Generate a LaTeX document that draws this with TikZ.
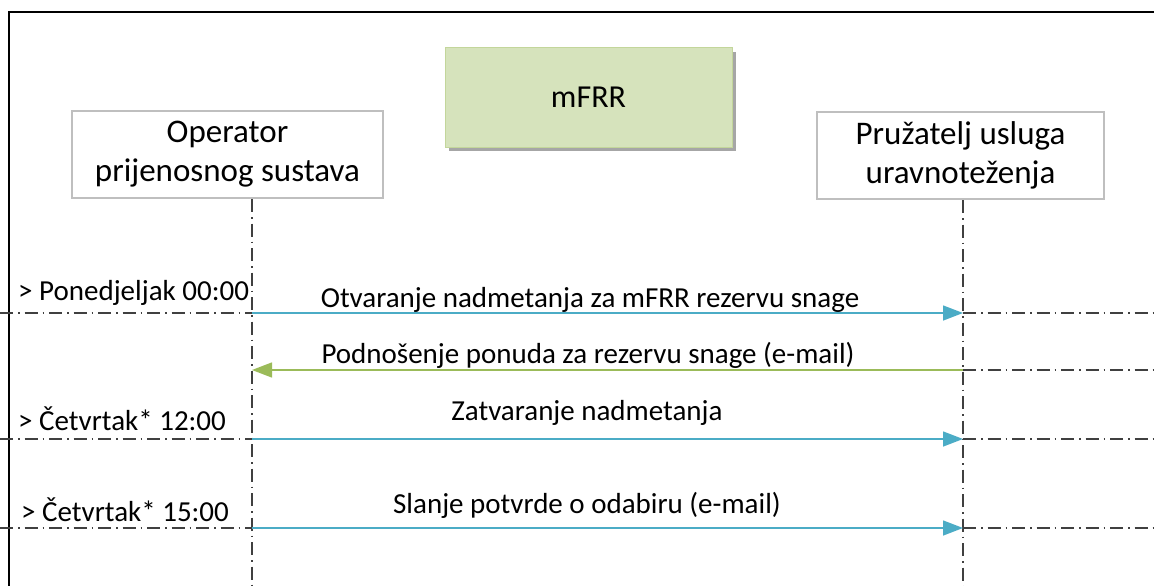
\documentclass[tikz,border=0pt]{standalone}
\usepackage{fontspec}
\setmainfont{Carlito}
\usetikzlibrary{arrows.meta,shadows}
\definecolor{boxgray}{HTML}{BFBFBF}
\definecolor{mfrrfill}{HTML}{D6E3BC}
\definecolor{mfrrdraw}{HTML}{C3D69B}
\definecolor{arrblue}{HTML}{4BACC6}
\definecolor{arrgreen}{HTML}{9BBB59}
\definecolor{linegray}{HTML}{404040}
\tikzset{
  x=1pt, y=1pt,
  actor/.style={draw=boxgray, line width=2pt, fill=white, minimum height=87pt, align=center, font=\fontsize{33}{39}\selectfont, inner sep=0pt},
  titlebox/.style={draw=mfrrdraw, line width=1pt, fill=mfrrfill, minimum width=287pt, minimum height=99pt, font=\fontsize{32}{38}\selectfont,
    drop shadow={shadow xshift=4pt, shadow yshift=-4pt, fill=black, opacity=0.35}},
  lifeline/.style={draw=linegray, line width=1.4pt, dash pattern=on 13pt off 5pt on 1.5pt off 5pt},
  timeline/.style={draw=linegray, line width=1.4pt, dash pattern=on 13pt off 5pt on 1.5pt off 5pt},
  msgblue/.style={draw=arrblue, line width=1.4pt, -{Triangle[length=20pt,width=15pt]}},
  msggreen/.style={draw=arrgreen, line width=1.4pt, -{Triangle[length=20pt,width=15pt]}},
  msglabel/.style={font=\fontsize{29}{34}\selectfont, inner sep=0pt},
  timelabel/.style={font=\fontsize{29}{34}\selectfont, inner sep=0pt, anchor=west},
}
\begin{document}
\begin{tikzpicture}
\useasboundingbox (0,0) rectangle (1154,-586);
\fill[white] (0,0) rectangle (1154,-586);
% frame
\draw[black, line width=1.5pt] (9,-586) -- (9,-12) -- (1154,-12);
% boxes
\node[titlebox] (mfrr) at (588.5,-97.5) {mFRR};
\node[actor, minimum width=311pt] (tso) at (227.5,-154.5) {Operator\\prijenosnog sustava};
\node[actor, minimum width=287pt] (bsp) at (960.5,-155.5) {Pružatelj usluga\\uravnoteženja};
% lifelines
\coordinate (tsoend) at (252,-586);
\coordinate (bspend) at (963,-586);
\draw[lifeline] (tso.south -| tsoend) -- (tsoend);
\draw[lifeline] (bsp.south -| bspend) -- (bspend);
% lifeline points
\coordinate (l1) at (252,-313);  \coordinate (r1) at (963,-313);
\coordinate (l2) at (252,-370);  \coordinate (r2) at (963,-370);
\coordinate (l3) at (252,-439);  \coordinate (r3) at (963,-439);
\coordinate (l4) at (252,-528);  \coordinate (r4) at (963,-528);
\coordinate (w1) at (0,-313); \coordinate (e1) at (1154,-313);
\coordinate (e2) at (1154,-370);
\coordinate (w3) at (0,-439); \coordinate (e3) at (1154,-439);
\coordinate (w4) at (0,-528); \coordinate (e4) at (1154,-528);
% time lines
\draw[timeline] (w1) -- (l1);
\draw[timeline] (r1) -- (e1);
\draw[timeline] (r2) -- (e2);
\draw[timeline] (w3) -- (l3);
\draw[timeline] (r3) -- (e3);
\draw[timeline] (w4) -- (l4);
\draw[timeline] (r4) -- (e4);
% messages
\draw[msgblue] (l1) -- (r1);
\draw[msggreen] (r2) -- (l2);
\draw[msgblue] (l3) -- (r3);
\draw[msgblue] (l4) -- (r4);
% labels
\node[timelabel] (t1) at (18,-293) {> Ponedjeljak 00:00};
\node[timelabel] (t3) at (18,-419) {> Četvrtak* 12:00};
\node[timelabel] (t4) at (21,-510) {> Četvrtak* 15:00};
\node[msglabel] (m1) at (590,-300) {Otvaranje nadmetanja za mFRR rezervu snage};
\node[msglabel] (m2) at (588,-355) {Podnošenje ponuda za rezervu snage (e-mail)};
\node[msglabel] (m3) at (587,-413) {Zatvaranje nadmetanja};
\node[msglabel] (m4) at (587,-505) {Slanje potvrde o odabiru (e-mail)};
\end{tikzpicture}
\end{document}
